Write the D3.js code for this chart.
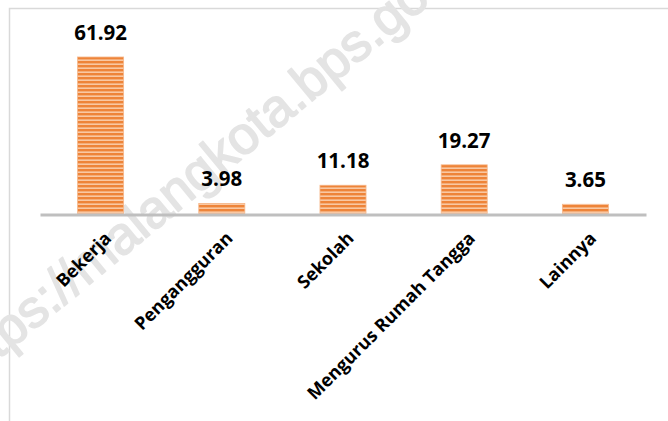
<!DOCTYPE html>
<html><head><meta charset="utf-8">
<script src="https://cdn.jsdelivr.net/npm/d3@7"></script>
<style>body{margin:0;background:#fff}svg{display:block}</style>
</head><body>
<script>
const categories = ["Bekerja", "Pengangguran", "Sekolah", "Mengurus Rumah Tangga", "Lainnya"];
const values = [61.92, 3.98, 11.18, 19.27, 3.65];
const valueLabels = ["61.92", "3.98", "11.18", "19.27", "3.65"];
const watermark = "https://malangkota.bps.go.id";

const W = 668, H = 421;
const svg = d3.select("body").append("svg").attr("width", W).attr("height", H);

const defs = svg.append("defs");
const pat = defs.append("pattern").attr("id", "stripes")
  .attr("patternUnits", "userSpaceOnUse").attr("width", 8).attr("height", 4).attr("y", 1);
pat.append("rect").attr("width", 8).attr("height", 4).attr("fill", "#f9c8a3");
pat.append("rect").attr("width", 8).attr("height", 2.4).attr("fill", "#ee8439");

// frame
svg.append("path").attr("d", "M9.5,421 V8.5 H668").attr("fill", "none")
  .attr("stroke", "#d9d9d9").attr("stroke-width", 1.5);

// watermark
svg.append("text").attr("transform", "translate(-36,388) rotate(-39.5)")
  .attr("font-family", "Liberation Sans, Arial, sans-serif").attr("font-weight", "normal")
  .attr("font-size", 53).attr("fill", "#e4e4e4")
  .attr("stroke", "#e4e4e4").attr("stroke-width", 1.6).attr("stroke-linejoin", "round")
  .text(watermark);

const x = d3.scaleBand().domain(categories).range([40, 646]).paddingInner(0.62).paddingOuter(0.31);
const y0 = 213.5;
const y = d3.scaleLinear().domain([0, 61.92]).range([y0, 57]);

const g = svg.append("g");
g.selectAll("rect.bar").data(values).join("rect").attr("class", "bar")
  .attr("x", (d, i) => x(categories[i])).attr("width", x.bandwidth())
  .attr("y", d => y(d)).attr("height", d => y0 - y(d))
  .attr("fill", "url(#stripes)").attr("stroke", "#f6b78a").attr("stroke-width", 0.8);

// axis line
const axis = d3.axisBottom(x).tickSize(0).tickFormat("");
const ax = svg.append("g").attr("transform", `translate(0,${y0+1})`).call(axis);
ax.select(".domain").attr("stroke", "#bfbfbf").attr("stroke-width", 3);

// value labels
g.selectAll("text.val").data(values).join("text").attr("class", "val")
  .attr("x", (d, i) => x(categories[i]) + x.bandwidth() / 2)
  .attr("y", d => y(d) - 17)
  .attr("text-anchor", "middle")
  .attr("font-family", "Open Sans, sans-serif").attr("font-weight", "bold")
  .attr("font-size", 20.5).attr("fill", "#000")
  .text((d, i) => valueLabels[i]);

// category labels
g.selectAll("text.cat").data(categories).join("text").attr("class", "cat")
  .attr("transform", d => `translate(${x(d) + x.bandwidth() / 2 + 7},${y0 + 21}) rotate(-45)`)
  .attr("text-anchor", "end").attr("dominant-baseline", "central")
  .attr("font-family", "Open Sans, sans-serif").attr("font-weight", "bold")
  .attr("font-size", 18).attr("fill", "#000")
  .text(d => d);
</script>
</body></html>
